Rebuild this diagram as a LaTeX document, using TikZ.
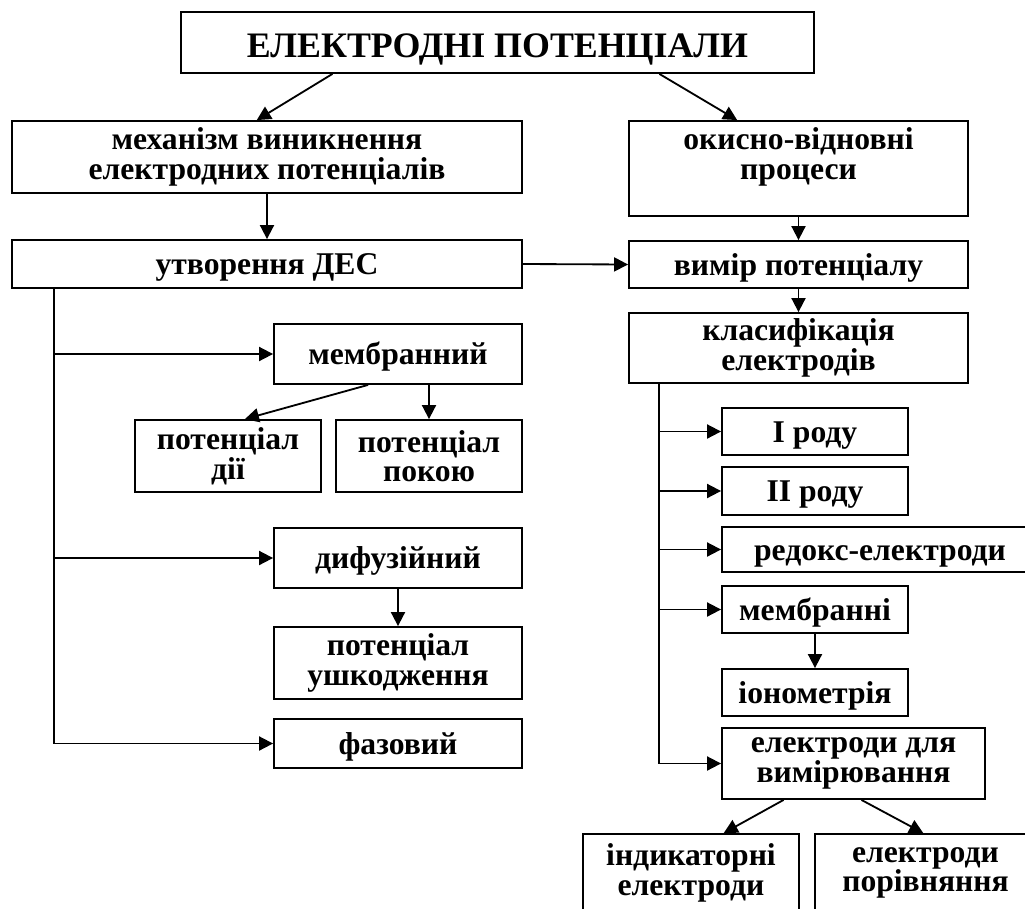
\documentclass[tikz,border=0pt]{standalone}
\usepackage{fontspec}
\setmainfont{Liberation Serif}
\usetikzlibrary{arrows.meta,calc}

\tikzset{
  blk/.style 2 args={draw, line width=1.3pt, inner sep=0pt, align=center,
    minimum width=#1*0.025cm, minimum height=#2*0.025cm,
    font=\bfseries\fontsize{22.5}{21}\selectfont},
  sl/.style={text height=15pt, text depth=0pt},
  arr/.style={line width=1.3pt, -{Triangle[length=10pt,width=10pt]}},
  trunk/.style={line width=1.3pt},
}

\begin{document}
\begin{tikzpicture}[x=0.025cm, y=-0.025cm]
  \useasboundingbox (0,0) rectangle (1025,908);
  \clip (0,0) rectangle (1025,908);

  \node[blk={633}{61}, text height=21pt, text depth=0pt, font=\bfseries\fontsize{25.5}{28}\selectfont] (title) at (497.5,42.5) {ЕЛЕКТРОДНІ ПОТЕНЦІАЛИ};

  % left column
  \node[blk={510}{72}] (mech) at (267,157) {механізм виникнення\\електродних потенціалів};
  \node[blk={510}{48}, sl] (des) at (267,264) {утворення ДЕС};
  \node[blk={248}{60}, sl] (memb) at (398,354) {мембранний};
  \node[blk={186}{72}] (dii) at (228,456) {потенціал\\дії};
  \node[blk={186}{72}] (spok) at (429,456) {потенціал\\покою};
  \node[blk={248}{60}, sl] (dyf) at (398,558) {дифузійний};
  \node[blk={248}{72}] (ushk) at (398,663) {потенціал\\ушкодження};
  \node[blk={248}{49}, sl] (faz) at (398,743.5) {фазовий};

  % right column
  \node[blk={339}{95}] (oxred) at (798.5,168.5) {окисно-відновні\\процеси\\\mbox{}};
  \node[blk={339}{47}, sl] (vymir) at (798.5,264.5) {вимір потенціалу};
  \node[blk={339}{70}] (klas) at (798.5,348) {класифікація\\електродів};
  \node[blk={186}{47}, sl] (rod1) at (815,431.5) {I роду};
  \node[blk={186}{48}, sl] (rod2) at (815,491) {II роду};
  \node[blk={316}{45}, sl] (redox) at (880,549.5) {редокс-електроди};
  \node[blk={186}{47}, sl] (membr) at (815,609.5) {мембранні};
  \node[blk={186}{47}, sl] (iono) at (815,692.5) {іонометрія};
  \node[blk={263}{71}] (vym) at (853.5,763.5) {електроди для\\вимірювання};
  \node[blk={216}{78}] (ind) at (691,873) {індикаторні\\електроди};
  \node[blk={221}{78}] (por) at (925.5,873) {електроди\\порівняння};

  \draw[arr] ($(title.south west)!0.24!(title.south east)$) -- ($(mech.north west)!0.48!(mech.north east)$);
  \draw[arr] ($(title.south west)!0.755!(title.south east)$) -- ($(oxred.north west)!0.32!(oxred.north east)$);
  \draw[arr] (mech.south) -- (des.north);
  \draw[arr] (des.east) -- (vymir.west);
  \draw[arr] (oxred.south) -- (vymir.north);
  \draw[arr] (vymir.south) -- (klas.north);

  \coordinate (ltop) at ($(des.south west)+(43,0)$);
  \draw[trunk] (ltop) -- (ltop |- faz.west);
  \foreach \n in {memb,dyf,faz}
    \draw[arr] (ltop |- \n.west) -- (\n.west);
  \draw[arr] ($(memb.south west)!0.38!(memb.south east)$) -- ($(dii.north west)!0.59!(dii.north east)$);
  \draw[arr] (memb.south -| spok.north) -- (spok.north);
  \draw[arr] (dyf.south) -- (ushk.north);

  \coordinate (rtop) at ($(klas.south west)+(31,0)$);
  \draw[trunk] (rtop) -- (rtop |- vym.west);
  \foreach \n in {rod1,rod2,redox,membr,vym}
    \draw[arr] (rtop |- \n.west) -- (\n.west);
  \draw[arr] (membr.south) -- (iono.north);
  \draw[arr] ($(vym.south west)!0.236!(vym.south east)$) -- ($(ind.north west)!0.65!(ind.north east)$);
  \draw[arr] ($(vym.south west)!0.53!(vym.south east)$) -- ($(por.north west)!0.49!(por.north east)$);
\end{tikzpicture}
\end{document}
